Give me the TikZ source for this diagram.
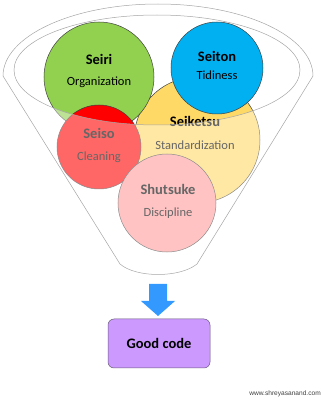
\documentclass[tikz,border=0pt]{standalone}
\usepackage{fontspec}
\setmainfont{Carlito}
\newfontfamily\webfont{Liberation Sans}
\usepackage{tikz}
\usetikzlibrary{positioning, calc}
\definecolor{fsGreen}{HTML}{92D050}
\definecolor{fsBlue}{HTML}{00B0F0}
\definecolor{fsYellow}{HTML}{FFD966}
\definecolor{fsRed}{HTML}{FF0000}
\definecolor{fsPink}{HTML}{FF9C9C}
\definecolor{fsPurple}{HTML}{CC99FF}
\definecolor{fsArrow}{HTML}{3399FF}
\definecolor{fsLine}{HTML}{A6A6A6}
\definecolor{fsEdge}{HTML}{404040}
\begin{document}
\begin{tikzpicture}[x=1pt, y=1pt,
    stage/.style={circle, draw=fsEdge, line width=0.5pt, inner sep=0pt},
    title/.style={font=\fontsize{14.5}{16}\selectfont\bfseries},
    sub/.style={font=\fontsize{12.5}{14}\selectfont}]
        \useasboundingbox (0,0) rectangle (323,400);
        % circles
        \node[stage, fill=fsYellow, minimum size=126pt] (seiketsu) at (197,260) {};
        \node[stage, fill=fsGreen, minimum size=110pt] (seiri) at (99,323) {};
        \node[stage, fill=fsBlue, minimum size=92pt] (seiton) at (217,332) {};
        \node[stage, fill=fsRed, minimum size=84pt] (seiso) at (99,253) {};
        \node[stage, fill=fsPink, minimum size=98pt] (shutsuke) at (167,197) {};
        % labels
        \node[title] (seiriT) at (99,341) {Seiri};
        \node[sub] (seiriS) at (99,318) {Organization};
        \node[title] (seitonT) at (217,344) {Seiton};
        \node[sub] (seitonS) at (217,325) {Tidiness};
        \node[title] (seiketsuT) at (195,279) {Seiketsu};
        \node[sub] (seiketsuS) at (195,255) {Standardization};
        \node[title] (seisoT) at (99,267) {Seiso};
        \node[sub] (seisoS) at (99,243) {Cleaning};
        \node[title] (shutsukeT) at (168,211) {Shutsuke};
        \node[sub] (shutsukeS) at (168,187) {Discipline};
        % funnel body
        \fill[white, opacity=0.4, even odd rule]
          (3,324) arc[start angle=180, end angle=0, x radius=155, y radius=72]
          -- (197,136) .. controls (180,122) and (136,122) .. (120,136) -- cycle
          (157,330) ellipse[x radius=143, y radius=55];
        \draw[fsLine, line width=0.5pt]
          (3,324) arc[start angle=180, end angle=0, x radius=155, y radius=72]
          -- (197,136) .. controls (180,122) and (136,122) .. (120,136) -- cycle;
        \draw[fsLine, line width=0.5pt] (157,330) ellipse[x radius=143, y radius=55];
        % arrow and result
        \fill[fsArrow] (149,116) -- (167,116) -- (167,99) -- (175,99) -- (158,84)
          -- (141,99) -- (149,99) -- cycle;
        \node[draw=fsEdge!70!fsPurple, fill=fsPurple, rounded corners=6pt, line width=0.5pt,
              minimum width=102pt, minimum height=49pt, title] (good) at (159,56.5) {Good code};
        \node[anchor=east, inner sep=0pt, font=\webfont\fontsize{6.6}{8}\selectfont, text=fsEdge] (web) at (321,6) {www.shreyasanand.com};
      \end{tikzpicture}
\end{document}
